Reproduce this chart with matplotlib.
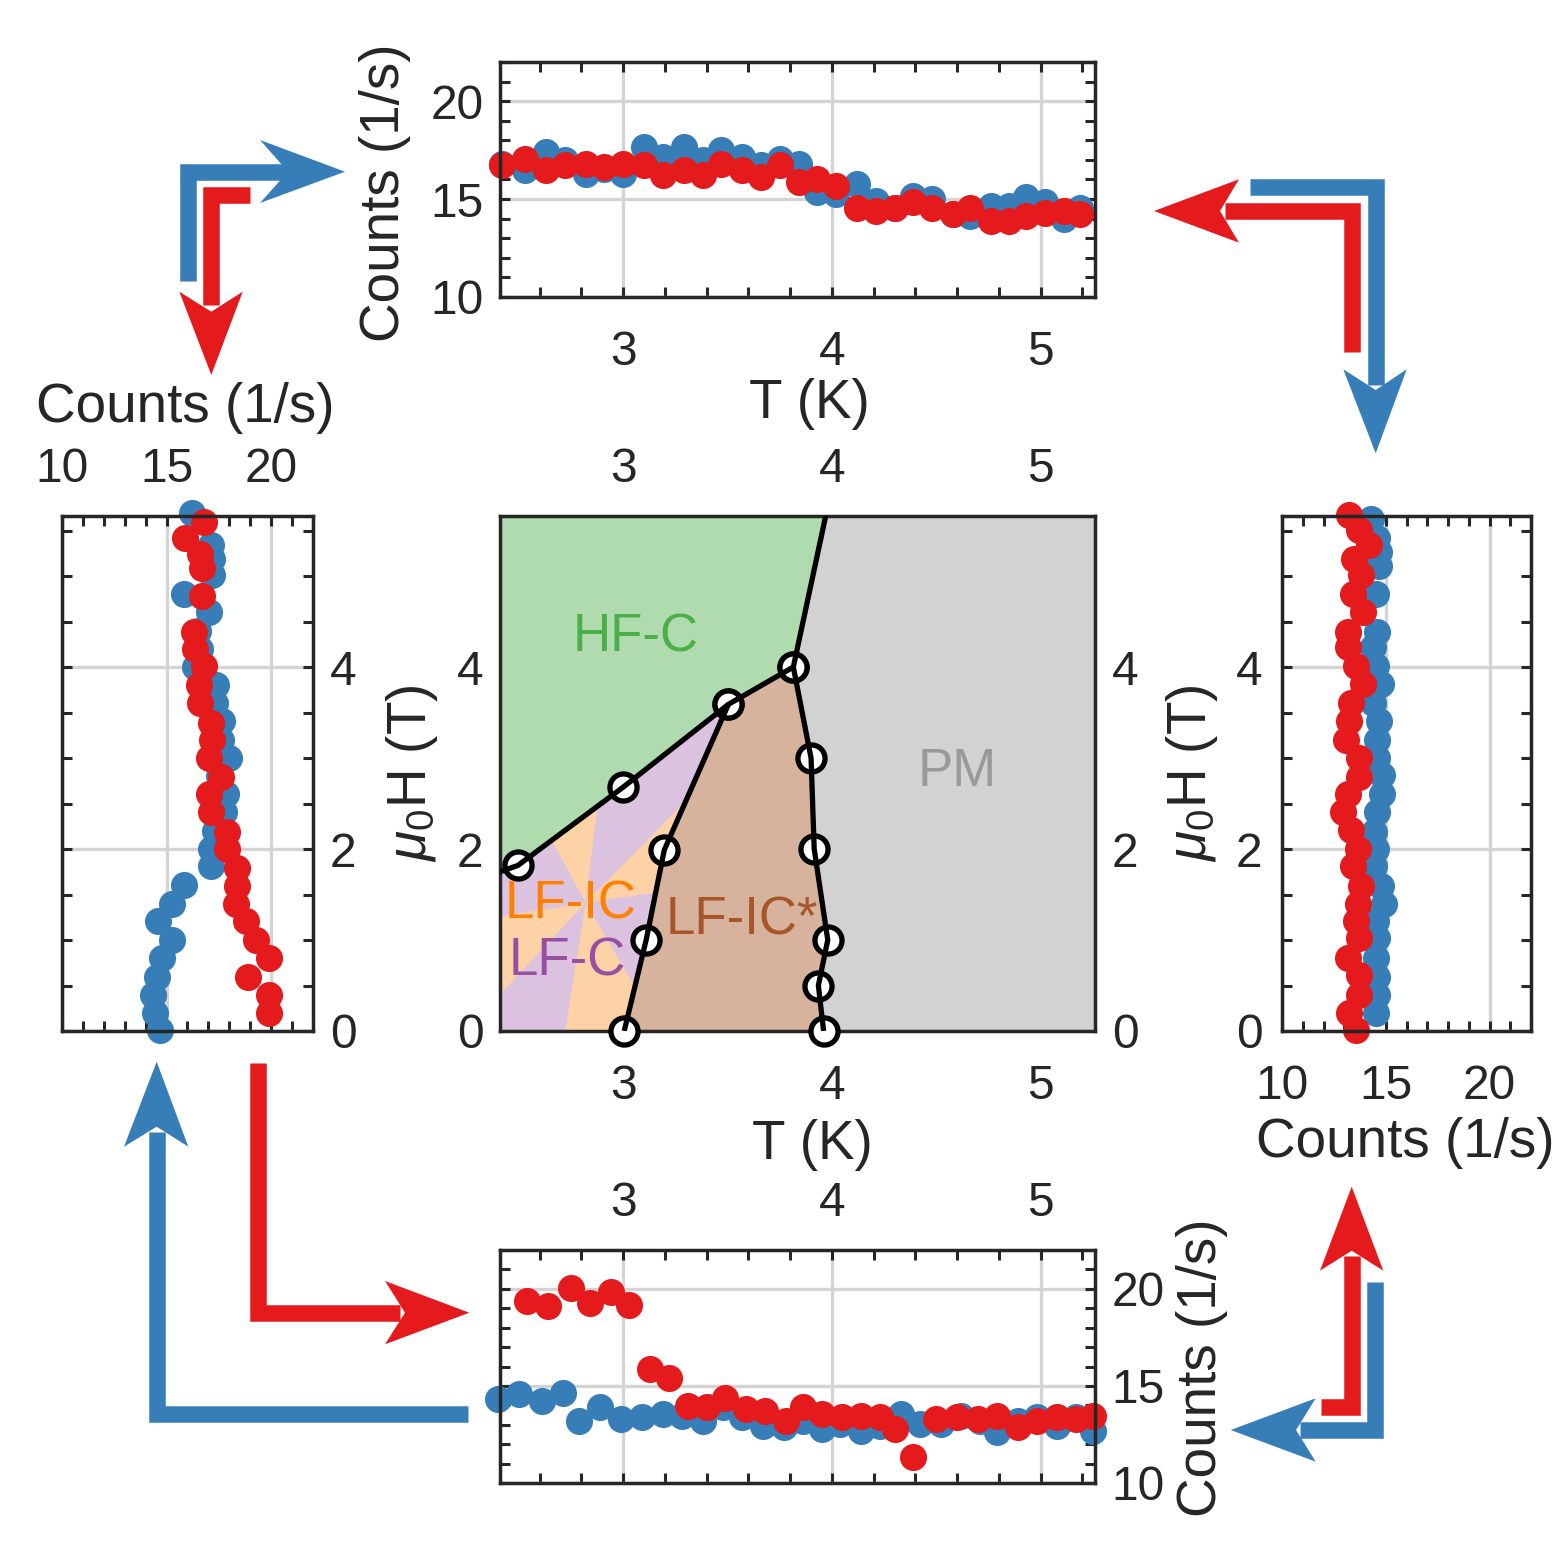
"""
Phase diagram with four neighbouring count-rate scans and connecting arrows.
"""

import matplotlib.pyplot as plt
import numpy as np
from matplotlib.patches import Polygon
from matplotlib.ticker import MultipleLocator

plt.rcParams["font.family"] = ["Liberation Sans", "DejaVu Sans"]
plt.rcParams["mathtext.fontset"] = "custom"
plt.rcParams["mathtext.rm"] = "Liberation Sans"
plt.rcParams["mathtext.it"] = "Liberation Sans:italic"

W = H = 1563
BLUE = "#377eb8"
RED = "#e41a1c"
INK = "#262626"
TICK_FS = 34.5
LABEL_FS = 39.5

# ---- top scan: counts vs temperature ----
top_T = [2.42, 2.53, 2.63, 2.72, 2.82, 2.91, 3.00, 3.10, 3.19, 3.29, 3.38, 3.47, 3.57, 3.66, 3.75, 3.84,
         3.93, 4.02, 4.12, 4.21, 4.30, 4.39, 4.48, 4.58, 4.66, 4.76, 4.85, 4.93, 5.02, 5.11, 5.19]
top_blue = [16.80, 16.47, 17.41, 16.98, 16.30, 16.55, 16.30, 17.67, 17.16, 17.67, 16.98, 17.50, 17.16, 16.72, 17.07, 16.81,
            15.34, 15.26, 15.78, 14.91, 14.57, 15.17, 15.00, 14.22, 14.14, 14.66, 14.66, 15.09, 14.83, 13.97, 14.57]
top_red = [16.72, 17.07, 16.47, 16.72, 16.81, 16.64, 16.81, 16.72, 16.21, 16.47, 16.21, 16.81, 16.47, 16.12, 16.72, 15.86,
           16.03, 15.69, 14.57, 14.40, 14.57, 14.83, 14.57, 14.22, 14.57, 13.88, 13.88, 14.14, 14.31, 14.40, 14.22]

# ---- bottom scan: counts vs temperature ----
bot_T_blue = [2.40, 2.50, 2.61, 2.71, 2.79, 2.89, 2.99, 3.09, 3.19, 3.28, 3.38, 3.48, 3.57, 3.67, 3.77, 3.86,
              3.95, 4.04, 4.14, 4.23, 4.33, 4.42, 4.52, 4.62, 4.71, 4.79, 4.89, 4.98, 5.08, 5.17, 5.25]
bot_blue = [14.32, 14.57, 14.23, 14.66, 13.21, 13.89, 13.29, 13.38, 13.55, 13.46, 13.21, 13.89, 13.38, 12.95, 12.87, 13.21,
            12.78, 13.04, 12.70, 12.95, 13.55, 13.04, 13.04, 13.46, 13.21, 12.61, 13.21, 13.38, 12.95, 13.38, 12.70]
bot_T_red = [2.54, 2.64, 2.75, 2.84, 2.94, 3.03, 3.13, 3.22, 3.31, 3.40, 3.49, 3.59, 3.68, 3.78, 3.86,
             3.95, 4.05, 4.14, 4.23, 4.30, 4.39, 4.50, 4.60, 4.70, 4.79, 4.89, 4.98, 5.08, 5.17, 5.25]
bot_red = [19.35, 19.10, 20.03, 19.27, 19.86, 19.18, 15.85, 15.43, 13.98, 13.89, 14.40, 13.81, 13.72, 13.21, 13.89,
           13.55, 13.38, 13.46, 13.38, 12.78, 11.33, 13.29, 13.38, 13.29, 13.46, 12.87, 13.21, 13.38, 13.29, 13.46]

# ---- left scan: counts vs field ----
left_H_blue = [0.01, 0.20, 0.40, 0.59, 0.80, 1.00, 1.21, 1.40, 1.61, 1.81, 2.00, 2.20, 2.41, 2.60, 2.80, 3.00,
               3.20, 3.41, 3.60, 3.80, 4.00, 4.20, 4.40, 4.61, 4.80, 5.01, 5.19, 5.34, 5.69]
left_blue = [14.68, 14.44, 14.35, 14.52, 14.76, 15.24, 14.60, 15.24, 15.81, 17.10, 17.10, 17.30, 17.74, 17.82, 17.50, 17.98,
             17.60, 17.66, 17.30, 17.34, 16.37, 16.60, 16.50, 17.02, 15.81, 17.18, 17.18, 17.10, 16.21]
left_H_red = [0.20, 0.40, 0.59, 0.80, 1.00, 1.21, 1.40, 1.59, 1.79, 2.00, 2.19, 2.41, 2.60, 2.79, 3.00, 3.20,
              3.39, 3.60, 3.80, 4.01, 4.20, 4.39, 4.78, 5.09, 5.24, 5.42, 5.59]
left_red = [19.92, 19.92, 18.87, 19.92, 19.27, 18.79, 18.31, 18.39, 18.39, 17.90, 17.90, 17.10, 17.02, 17.58, 17.02, 17.18,
            17.10, 16.61, 16.53, 16.77, 16.37, 16.29, 16.69, 16.69, 16.61, 15.89, 16.77]

# ---- right scan: counts vs field ----
right_H_blue = [0.20, 0.40, 0.59, 0.80, 1.02, 1.21, 1.40, 1.59, 1.81, 2.00, 2.19, 2.41, 2.60, 2.81, 3.00, 3.20,
                3.41, 3.60, 3.81, 4.01, 4.22, 4.39, 4.80, 5.11, 5.26, 5.42, 5.63]
right_blue = [14.52, 14.60, 14.60, 14.52, 14.60, 14.52, 14.92, 14.76, 14.44, 14.52, 14.44, 14.60, 14.84, 14.84, 14.60, 14.60,
              14.68, 14.37, 14.76, 14.52, 14.37, 14.60, 14.52, 14.68, 14.68, 14.60, 14.29]
right_H_red = [0.01, 0.20, 0.40, 0.61, 0.80, 1.02, 1.21, 1.40, 1.59, 1.81, 2.00, 2.21, 2.41, 2.60, 2.79, 3.00,
               3.20, 3.41, 3.60, 3.81, 4.01, 4.22, 4.39, 4.61, 4.80, 5.01, 5.19, 5.34, 5.51, 5.67]
right_red = [13.57, 13.25, 13.73, 13.73, 13.17, 13.73, 13.57, 13.65, 13.81, 13.41, 13.65, 13.33, 12.94, 13.17, 13.73, 13.73,
             13.10, 13.25, 13.33, 13.89, 13.57, 13.17, 13.17, 13.89, 13.41, 13.81, 13.49, 14.21, 13.73, 13.25]

# ---- phase boundaries ----
pm_T = [3.96, 3.935, 3.98, 3.915, 3.90, 3.815]
pm_H = [0.0, 0.5, 1.0, 2.0, 3.0, 4.0]
hf_T = [2.496, 3.00, 3.504, 3.815]
hf_H = [1.82, 2.68, 3.59, 4.00]
ic_T = [3.005, 3.11, 3.197, 3.504]
ic_H = [0.0, 1.0, 1.99, 3.59]

T_LIM = (2.41, 5.26)
H_LIM = (0.0, 5.66)
C_LIM = (10.0, 22.0)


def px_axes(fig, x0, y0, x1, y1):
    return fig.add_axes([x0 / W, 1 - y1 / H, (x1 - x0) / W, (y1 - y0) / H])


def style(ax, xmin_step, ymin_step, xpad=18, ypad=12):
    ax.xaxis.set_minor_locator(MultipleLocator(xmin_step))
    ax.yaxis.set_minor_locator(MultipleLocator(ymin_step))
    ax.tick_params(which="both", direction="in", top=True, right=True, bottom=True, left=True,
                   length=7.5, width=2.2, color=INK, labelsize=TICK_FS, labelcolor=INK)
    ax.tick_params(axis="x", pad=xpad)
    ax.tick_params(axis="y", pad=ypad)
    ax.grid(True, which="major", color="#d4d4d4", lw=2.4)
    ax.set_axisbelow(True)
    for s in ax.spines.values():
        s.set_linewidth(2.5)
        s.set_color(INK)
        s.set_zorder(4)


def scatter_pair(ax, bx, by, rx, ry):
    ax.plot(bx, by, "o", ms=19.5, mew=0, color=BLUE, clip_on=False, zorder=3)
    ax.plot(rx, ry, "o", ms=19.5, mew=0, color=RED, clip_on=False, zorder=3)


def draw_arrow(ax, path, tip, barb1, barb2, notch, color):
    xs, ys = zip(*path)
    ax.plot(xs, ys, color=color, lw=11.9, solid_joinstyle="miter", solid_capstyle="butt")
    ax.add_patch(Polygon([tip, barb1, notch, barb2], closed=True, facecolor=color, edgecolor="none"))


def main():
    fig = plt.figure(figsize=(15.63, 15.63), dpi=100)

    # arrows drawn in pixel space
    ov = fig.add_axes([0, 0, 1, 1])
    ov.set_xlim(0, W)
    ov.set_ylim(H, 0)
    ov.axis("off")
    draw_arrow(ov, [(187.7, 280.7), (187.7, 171.7), (295, 171.7)], (345, 171.7), (260, 140), (260, 203), (288, 171.7), BLUE)
    draw_arrow(ov, [(250, 195.3), (211.3, 195.3), (211.3, 305)], (211.3, 375), (179.3, 291.7), (242.7, 291.7), (211.3, 311.7), RED)
    draw_arrow(ov, [(1250, 187.3), (1375.7, 187.3), (1375.7, 385)], (1375.7, 453.3), (1343.3, 369.3), (1406.7, 369.3), (1375.7, 390), BLUE)
    draw_arrow(ov, [(1351.7, 351.7), (1351.7, 211), (1225, 211)], (1154, 211), (1239, 179.3), (1239, 242.7), (1220, 211), RED)
    draw_arrow(ov, [(468.3, 1414.3), (156.7, 1414.3), (156.7, 1132)], (156.7, 1061.7), (124, 1146.7), (188.3, 1146.7), (156.7, 1126.7), BLUE)
    draw_arrow(ov, [(257.7, 1062.7), (257.7, 1312.7), (400, 1312.7)], (469.3, 1312.7), (385, 1281), (385, 1344.3), (405, 1312.7), RED)
    draw_arrow(ov, [(1320.7, 1406.7), (1351.7, 1406.7), (1351.7, 1256)], (1351.7, 1186.7), (1320, 1270.7), (1383.3, 1270.7), (1351.7, 1250.7), RED)
    draw_arrow(ov, [(1375, 1281.7), (1375, 1430), (1300, 1430)], (1230.7, 1430), (1315.7, 1398.3), (1315.7, 1461.7), (1296, 1430), BLUE)

    # top panel
    ax_t = px_axes(fig, 500, 62, 1095, 297)
    scatter_pair(ax_t, top_T, top_blue, top_T, top_red)
    ax_t.set_xlim(T_LIM)
    ax_t.set_ylim(C_LIM)
    ax_t.set_xticks([3, 4, 5])
    ax_t.set_yticks([10, 15, 20])
    style(ax_t, 0.2, 1, xpad=24)

    # bottom panel
    ax_b = px_axes(fig, 500, 1250, 1095, 1483)
    scatter_pair(ax_b, bot_T_blue, bot_blue, bot_T_red, bot_red)
    ax_b.set_xlim(T_LIM)
    ax_b.set_ylim(C_LIM)
    ax_b.set_xticks([3, 4, 5])
    ax_b.set_yticks([10, 15, 20])
    style(ax_b, 0.2, 1, xpad=17)
    ax_b.tick_params(labelbottom=False, labeltop=True, labelleft=False, labelright=True)

    # left panel
    ax_l = px_axes(fig, 62, 516, 313, 1031)
    scatter_pair(ax_l, left_blue, left_H_blue, left_red, left_H_red)
    ax_l.set_xlim(C_LIM)
    ax_l.set_ylim(H_LIM)
    ax_l.set_xticks([10, 15, 20])
    ax_l.set_yticks([0, 2, 4])
    style(ax_l, 1, 0.5, xpad=17)
    ax_l.tick_params(labelbottom=False, labeltop=True, labelleft=False, labelright=True)

    # right panel
    ax_r = px_axes(fig, 1282, 516, 1531, 1031)
    scatter_pair(ax_r, right_blue, right_H_blue, right_red, right_H_red)
    ax_r.set_xlim(C_LIM)
    ax_r.set_ylim(H_LIM)
    ax_r.set_xticks([10, 15, 20])
    ax_r.set_yticks([0, 2, 4])
    style(ax_r, 1, 0.5, xpad=24, ypad=14)

    # centre phase diagram
    ax_c = px_axes(fig, 500, 516, 1095, 1031)
    ax_c.set_xlim(T_LIM)
    ax_c.set_ylim(H_LIM)
    ax_c.set_xticks([3, 4, 5])
    ax_c.set_yticks([0, 2, 4])
    style(ax_c, 0.2, 0.5, xpad=24)
    ax_c.tick_params(labelright=True)
    sec = ax_c.secondary_xaxis("top")
    sec.set_xticks([3, 4, 5])
    sec.tick_params(length=0, labelsize=TICK_FS, labelcolor=INK, pad=17)
    sec.spines["top"].set_visible(False)

    t0, t1 = T_LIM
    h0, h1 = H_LIM
    top_end = (3.97, h1)
    left_end = (t0, 1.75)
    hf_pts = list(zip(hf_T, hf_H))
    pm_pts = list(zip(pm_T, pm_H))
    ic_pts = list(zip(ic_T, ic_H))

    green = [(t0, h1), left_end] + hf_pts + [top_end]
    grey = [top_end] + pm_pts[::-1] + [(t1, h0), (t1, h1)]
    brown = ic_pts + pm_pts[::-1]
    lf = [(t0, h0), left_end] + hf_pts[:3] + ic_pts[::-1][1:]

    ax_c.add_patch(Polygon(green, closed=True, facecolor="#b0dbae", edgecolor="none", zorder=1))
    ax_c.add_patch(Polygon(grey, closed=True, facecolor="#d2d2d2", edgecolor="none", zorder=1))
    ax_c.add_patch(Polygon(brown, closed=True, facecolor="#d7b29c", edgecolor="none", zorder=1))
    lf_patch = Polygon(lf, closed=True, facecolor="#fdd2a6", edgecolor="none", zorder=1)
    ax_c.add_patch(lf_patch)

    # pinwheel of purple wedges inside the low-field pocket (angles in screen space)
    cx, cy = 2.82, 1.41
    sx, sy = 208.5, 91.0
    for a1, a2 in [(45.5, 83.0), (118.5, 189.3), (227.0, 261.0), (300.4, 368.3)]:
        angs = np.radians(np.linspace(a1, a2, 8))
        pts = [(cx, cy)] + [(cx + 900 * np.cos(a) / sx, cy + 900 * np.sin(a) / sy) for a in angs]
        w = Polygon(pts, closed=True, facecolor="#dbc2df", edgecolor="none", zorder=1.5)
        ax_c.add_patch(w)
        w.set_clip_path(lf_patch)

    mk = dict(ls="none", marker="o", ms=19.5, mfc="white", mec="black", mew=3.8, clip_on=False, zorder=5)
    ax_c.plot(pm_T, pm_H, **mk)
    ax_c.plot(hf_T, hf_H, **mk)
    ax_c.plot(ic_T, ic_H, **mk)
    ln = dict(color="black", lw=3.8, zorder=6, solid_capstyle="butt")
    ax_c.plot(pm_T + [top_end[0]], pm_H + [top_end[1]], **ln)
    ax_c.plot([left_end[0]] + hf_T, [left_end[1]] + hf_H, **ln)
    ax_c.plot(ic_T, ic_H, **ln)

    txt = dict(fontsize=38, ha="center", va="center", zorder=7)
    ax_c.text(3.058, 4.33, "HF-C", color="#4daf4a", **txt)
    ax_c.text(4.60, 2.85, "PM", color="#999999", **txt)
    ax_c.text(3.566, 1.21, "LF-IC*", color="#a65628", **txt)
    ax_c.text(2.75, 1.385, "LF-IC", color="#ff7f00", **txt)
    ax_c.text(2.73, 0.76, "LF-C", color="#984ea3", **txt)

    # axis labels placed in pixel space
    lab = dict(fontsize=LABEL_FS, color=INK, ha="center", va="center")
    fig.text(385 / W, 1 - 193 / H, "Counts (1/s)", rotation=90, **lab)
    fig.text(809 / W, 1 - 404 / H, "T (K)", **lab)
    fig.text(185 / W, 1 - 408 / H, "Counts (1/s)", **lab)
    fig.text(412 / W, 1 - 773 / H, r"$\mu_0$H (T)", rotation=90, **lab)
    fig.text(1192 / W, 1 - 773 / H, r"$\mu_0$H (T)", rotation=90, **lab)
    fig.text(812 / W, 1 - 1145 / H, "T (K)", **lab)
    fig.text(1405 / W, 1 - 1143 / H, "Counts (1/s)", **lab)
    fig.text(1202 / W, 1 - 1368 / H, "Counts (1/s)", rotation=90, **lab)

    fig.savefig("out.png", dpi=100, facecolor="white")
    plt.close(fig)


if __name__ == "__main__":
    main()
